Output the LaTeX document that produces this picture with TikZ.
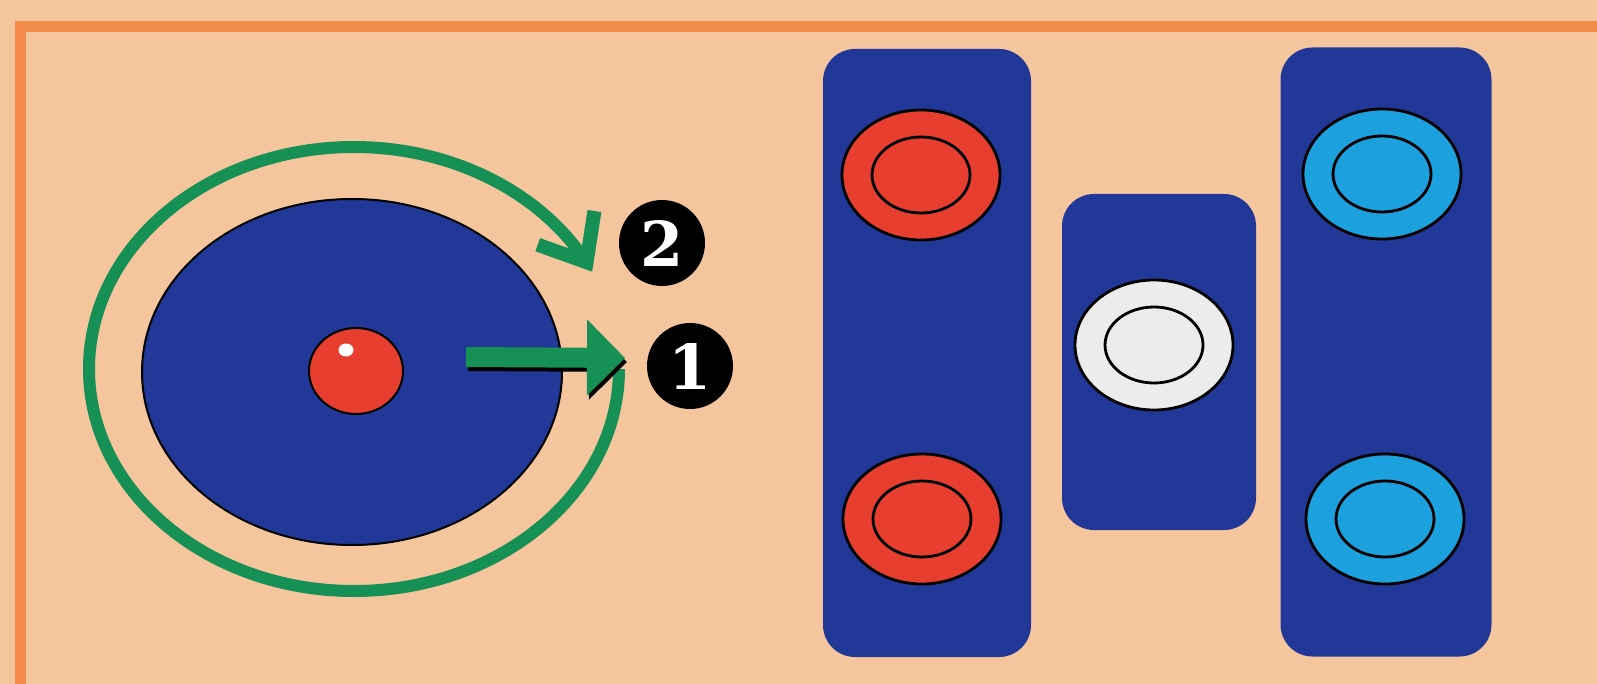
\documentclass[tikz,border=0pt]{standalone}
\usepackage{fontspec}
\usepackage{xcolor}
\usepackage{tikz}
\usetikzlibrary{positioning}
\usetikzlibrary{shapes.geometric,arrows.meta,bending}

\newfontfamily\numfont{DejaVu Serif}
\definecolor{peach}{RGB}{245,197,158}
\definecolor{framecol}{RGB}{244,140,74}
\definecolor{trayblue}{RGB}{33,56,152}
\definecolor{discred}{RGB}{232,62,48}
\definecolor{disccyan}{RGB}{28,160,222}
\definecolor{discwhite}{RGB}{236,236,236}
\definecolor{loopgreen}{RGB}{22,144,84}

\begin{document}
\begin{tikzpicture}[x=1pt, y=-1pt, every node/.style={inner sep=0pt}, >=latex,
  tray/.style={fill=trayblue, rounded corners=32pt},
  disc/.style={ellipse, draw, line width=2.8pt, minimum width=158pt, minimum height=130pt},
  hole/.style={ellipse, draw, line width=2.8pt, minimum width=98pt, minimum height=76pt},
  badge/.style={circle, fill=black, text=white, minimum size=86pt, font=\numfont\bfseries\fontsize{62}{64}\selectfont}]

\useasboundingbox (0,0) rectangle (1597,684);
\clip (0,0) rectangle (1597,684);
\fill[peach] (0,0) rectangle (1597,684);
\draw[framecol, line width=11pt] (20,27) rectangle (1640,730);

% plate with the ball
\node (plate) [ellipse, draw, line width=2pt, fill=trayblue, minimum width=420pt, minimum height=346pt] at (352,372) {};
\node (ball) [ellipse, draw, line width=2pt, fill=discred, minimum width=94pt, minimum height=86pt] at (356,371) {};
\node (glint) [ellipse, fill=white, minimum width=15pt, minimum height=13pt] at (346,350) {};

% loop round the plate
\coordinate (loopc) at (354,369);
\draw[loopgreen, line width=12pt, -{Straight Barb[length=40pt,width=66pt,line width=14pt]}] (loopc) ++(265,0) arc[start angle=0, end angle=334, x radius=265, y radius=222];

% push arrow
\coordinate (pushs) at (466,357);
\coordinate (pushe) at (625,358);
\draw[black, line width=20pt, -{Triangle[length=38pt,width=74pt]}] ([shift={(2,4)}]pushs) -- ([shift={(2,4)}]pushe);
\draw[loopgreen, line width=20pt, -{Triangle[length=38pt,width=74pt]}] (pushs) -- (pushe);

\node (two) [badge] at (662,243) {2};
\node (one) [badge] at (690,366) {1};

% trays
\node (trayL) [tray, minimum width=208pt, minimum height=608pt] at (927,353) {};
\node (trayM) [tray, minimum width=194pt, minimum height=336pt] at (1159,362) {};
\node (trayR) [tray, minimum width=211pt, minimum height=609pt] at (1386,352) {};

\node (redA) [disc, fill=discred] at (921,175) {};
\node (redAin) [hole, fill=discred] at (redA) {};
\node (redB) [disc, fill=discred] at (922,519) {};
\node (redBin) [hole, fill=discred] at (redB) {};
\node (whiteA) [disc, fill=discwhite] at (1154,345) {};
\node (whiteAin) [hole, fill=discwhite] at (whiteA) {};
\node (cyanA) [disc, fill=disccyan] at (1382,174) {};
\node (cyanAin) [hole, fill=disccyan] at (cyanA) {};
\node (cyanB) [disc, fill=disccyan] at (1385,519) {};
\node (cyanBin) [hole, fill=disccyan] at (cyanB) {};

\end{tikzpicture}
\end{document}
